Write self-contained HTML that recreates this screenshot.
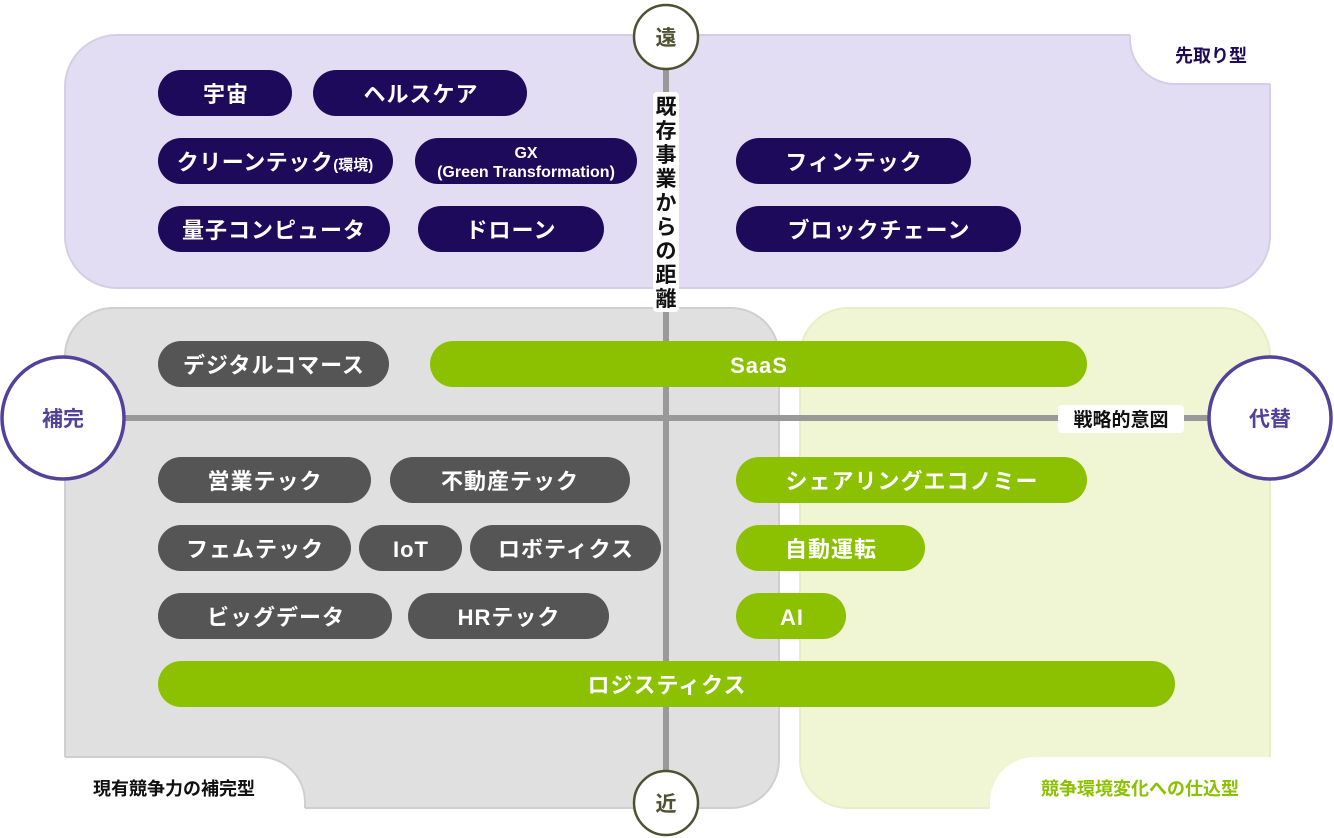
<!DOCTYPE html>
<html><head><meta charset="utf-8"><style>
html,body{margin:0;padding:0;background:#fff;width:1334px;height:838px;overflow:hidden}
svg text{font-family:"Liberation Sans","Noto Sans CJK JP",sans-serif;font-weight:bold}
</style></head><body>
<svg width="1334" height="838" viewBox="0 0 1334 838" xmlns="http://www.w3.org/2000/svg">
<rect x="65" y="35" width="1205" height="253" rx="52" fill="#e2ddf3" stroke="#d4cfe6" stroke-width="2"/>
<path d="M1130 34 H1272 V84 H1175 A45 45 0 0 1 1130 40 Z" fill="#fff"/>
<path d="M1130 35 V40 A45 45 0 0 0 1175 84 H1270" fill="none" stroke="#d4cfe6" stroke-width="2"/>
<rect x="65" y="308" width="714" height="500" rx="48" fill="#e0e0e0" stroke="#cfcfcf" stroke-width="2"/>
<path d="M64 757 H260 A45 45 0 0 1 305 802 V810 H64 Z" fill="#fff"/>
<path d="M65 757 H260 A45 45 0 0 1 305 802 V808" fill="none" stroke="#cfcfcf" stroke-width="2"/>
<rect x="800" y="308" width="470" height="500" rx="48" fill="#f0f6d4" stroke="#e6efc6" stroke-width="2"/>
<path d="M990 810 V802 A45 45 0 0 1 1035 757 H1272 V810 Z" fill="#fff"/>
<line x1="666" y1="37" x2="666" y2="805" stroke="#999" stroke-width="6"/>
<line x1="63" y1="418" x2="1270" y2="418" stroke="#999" stroke-width="6"/>
<rect x="653" y="92" width="26" height="220" fill="#fff" rx="4"/>
<g font-size="21" fill="#111" text-anchor="middle">
<text x="666" y="114">既</text><text x="666" y="138">存</text><text x="666" y="162">事</text>
<text x="666" y="186">業</text><text x="666" y="210">か</text><text x="666" y="234">ら</text>
<text x="666" y="258">の</text><text x="666" y="282">距</text><text x="666" y="306">離</text>
</g>
<rect x="1058" y="405" width="126" height="28" fill="#fff" rx="4"/>
<text x="1121" y="426" font-size="19" fill="#111" text-anchor="middle">戦略的意図</text>
<circle cx="666" cy="37" r="32" fill="#fff" stroke="#4f5232" stroke-width="2.5"/>
<text x="666" y="45" font-size="21" fill="#4f5232" text-anchor="middle">遠</text>
<circle cx="666" cy="803" r="32" fill="#fff" stroke="#4f5232" stroke-width="2.5"/>
<text x="666" y="811" font-size="21" fill="#4f5232" text-anchor="middle">近</text>
<circle cx="63" cy="418" r="61" fill="#fff" stroke="#53419a" stroke-width="3.5"/>
<text x="63" y="426" font-size="21" fill="#53419a" text-anchor="middle">補完</text>
<circle cx="1270" cy="418" r="61" fill="#fff" stroke="#53419a" stroke-width="3.5"/>
<text x="1270" y="426" font-size="21" fill="#53419a" text-anchor="middle">代替</text>
<text x="1211" y="62" font-size="18" fill="#1e0a5a" text-anchor="middle">先取り型</text>
<text x="174" y="795" font-size="18" fill="#111" text-anchor="middle">現有競争力の補完型</text>
<text x="1140" y="795" font-size="18" fill="#8bc100" text-anchor="middle">競争環境変化への仕込型</text>
<g fill="#1e0a5a">
<rect x="158" y="70" width="134" height="46" rx="23"/>
<rect x="313" y="70" width="214" height="46" rx="23"/>
<rect x="158" y="138" width="235" height="46" rx="23"/>
<rect x="415" y="138" width="222" height="46" rx="23"/>
<rect x="736" y="138" width="235" height="46" rx="23"/>
<rect x="158" y="206" width="232" height="46" rx="23"/>
<rect x="418" y="206" width="186" height="46" rx="23"/>
<rect x="736" y="206" width="285" height="46" rx="23"/>
</g>
<g fill="#555">
<rect x="158" y="341" width="231" height="46" rx="23"/>
<rect x="158" y="457" width="213" height="46" rx="23"/>
<rect x="390" y="457" width="240" height="46" rx="23"/>
<rect x="158" y="525" width="193" height="46" rx="23"/>
<rect x="359" y="525" width="103" height="46" rx="23"/>
<rect x="470" y="525" width="191" height="46" rx="23"/>
<rect x="158" y="593" width="234" height="46" rx="23"/>
<rect x="408" y="593" width="201" height="46" rx="23"/>
</g>
<g fill="#8bc100">
<rect x="430" y="341" width="657" height="46" rx="23"/>
<rect x="736" y="457" width="351" height="46" rx="23"/>
<rect x="736" y="525" width="189" height="46" rx="23"/>
<rect x="736" y="593" width="110" height="46" rx="23"/>
<rect x="158" y="661" width="1017" height="46" rx="23"/>
</g>
<g font-size="22" fill="#fff" text-anchor="middle" style="letter-spacing:1px">
<text x="226" y="102">宇宙</text>
<text x="421" y="102">ヘルスケア</text>
<text x="275" y="170" style="letter-spacing:0.5px">クリーンテック<tspan font-size="15" style="letter-spacing:0">(環境)</tspan></text>
<text x="526" y="158" font-size="16" style="letter-spacing:0">GX</text>
<text x="526" y="177" font-size="16" style="letter-spacing:0">(Green Transformation)</text>
<text x="854" y="170">フィンテック</text>
<text x="274" y="238">量子コンピュータ</text>
<text x="511" y="238">ドローン</text>
<text x="879" y="238">ブロックチェーン</text>
<text x="274" y="373">デジタルコマース</text>
<text x="759" y="373">SaaS</text>
<text x="265" y="489">営業テック</text>
<text x="510" y="489">不動産テック</text>
<text x="912" y="489">シェアリングエコノミー</text>
<text x="255" y="557">フェムテック</text>
<text x="411" y="557">IoT</text>
<text x="566" y="557">ロボティクス</text>
<text x="831" y="557">自動運転</text>
<text x="276" y="625">ビッグデータ</text>
<text x="509" y="625">HRテック</text>
<text x="792" y="625">AI</text>
<text x="667" y="693">ロジスティクス</text>
</g>
</svg>
</body></html>
